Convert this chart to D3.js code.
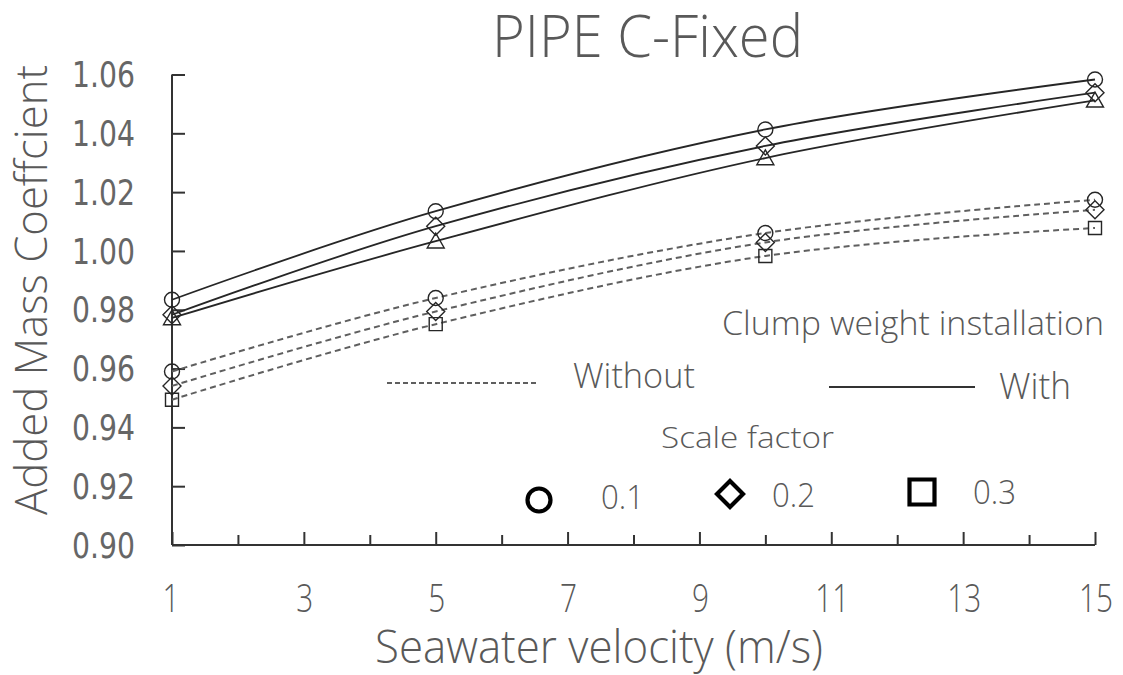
<!DOCTYPE html>
<html>
<head>
<meta charset="utf-8">
<script src="https://cdn.jsdelivr.net/npm/d3@7"></script>
<style>
  html, body { margin: 0; padding: 0; background: #fff; }
  svg { display: block; }
  .lt { font-family: "Open Sans", "Noto Sans", sans-serif; font-weight: 300; fill: #595959; }
  .num { font-family: "DejaVu Sans", sans-serif; fill: #666; }
</style>
</head>
<body>
<svg id="chart" width="1123" height="675"></svg>
<script>
// Seawater velocity sample points (m/s)
const velocities = [1, 5, 10, 15];

// Added mass coefficient, with clump weight installed
const withSF01 = [0.9834, 1.0135, 1.0413, 1.0583];
const withSF02 = [0.9783, 1.0084, 1.0357, 1.0538];
const withSF03 = [0.9772, 1.0033, 1.0316, 1.0512];

// Added mass coefficient, without clump weight
const withoutSF01 = [0.9590, 0.9840, 1.0061, 1.0174];
const withoutSF02 = [0.9541, 0.9794, 1.0029, 1.0140];
const withoutSF03 = [0.9494, 0.9751, 0.9983, 1.0078];

const yTicks = [0.90, 0.92, 0.94, 0.96, 0.98, 1.00, 1.02, 1.04, 1.06];
const xTickLabels = [1, 3, 5, 7, 9, 11, 13, 15];
const xTicksAll = d3.range(1, 16);

const svg = d3.select("#chart");

const x = d3.scaleLinear().domain([1, 15]).range([172, 1095]);
const y = d3.scaleLinear().domain([0.90, 1.06]).range([545, 74.5]);

// custom marker shapes (size = half-width in px)
const shapes = {
  circle: { draw(ctx, s) { ctx.moveTo(s, 0); ctx.arc(0, 0, s, 0, 2 * Math.PI); } },
  diamond: { draw(ctx, s) { ctx.moveTo(0, -s); ctx.lineTo(s, 0); ctx.lineTo(0, s); ctx.lineTo(-s, 0); ctx.closePath(); } },
  square: { draw(ctx, s) { ctx.rect(-s, -s, 2 * s, 2 * s); } },
  triangle: { draw(ctx, s) { const h = s * 1.75; ctx.moveTo(0, -h * 0.55); ctx.lineTo(s, h * 0.45); ctx.lineTo(-s, h * 0.45); ctx.closePath(); } }
};

const series = [
  { values: withoutSF01, dashed: true, shape: "circle", size: 7.5 },
  { values: withoutSF02, dashed: true, shape: "diamond", size: 9 },
  { values: withoutSF03, dashed: true, shape: "square", size: 6.5 },
  { values: withSF01, dashed: false, shape: "circle", size: 7.5 },
  { values: withSF02, dashed: false, shape: "diamond", size: 9 },
  { values: withSF03, dashed: false, shape: "triangle", size: 8.5 }
];

// axes
const axisColor = "#333";
const yAxis = svg.append("g").attr("transform", `translate(${x(1)},0)`)
  .call(d3.axisRight(y).tickValues(yTicks).tickSize(13).tickFormat(""));
yAxis.selectAll("path, line").attr("stroke", axisColor).attr("stroke-width", 2);
yAxis.select(".domain").attr("d", `M0,${y(1.06)}V${y(0.90)}`);

const xAxis = svg.append("g").attr("transform", `translate(0,${y(0.90)})`)
  .call(d3.axisTop(x).tickValues(xTicksAll).tickSize(13).tickFormat(""));
xAxis.selectAll("path, line").attr("stroke", axisColor).attr("stroke-width", 2);
xAxis.select(".domain").attr("d", `M${x(1)},0H${x(15)}`);
xAxis.selectAll(".tick line").attr("y2", d => (d % 2 === 0 ? -10 : -13));

// y tick labels
svg.append("g").selectAll("text").data(yTicks).join("text")
  .attr("class", "num")
  .attr("x", 135).attr("y", d => y(d)).attr("dy", "0.36em")
  .attr("text-anchor", "end")
  .attr("font-size", 35)
  .attr("textLength", 63).attr("lengthAdjust", "spacingAndGlyphs")
  .text(d => d.toFixed(2));

// x tick labels
svg.append("g").selectAll("text").data(xTickLabels).join("text")
  .attr("class", "lt")
  .attr("x", d => x(d) + (d === 1 ? -1 : 1)).attr("y", 612)
  .attr("text-anchor", "middle")
  .attr("font-size", 38)
  .attr("textLength", d => String(d).length * 17).attr("lengthAdjust", "spacingAndGlyphs")
  .text(d => d);

// titles
svg.append("text").attr("class", "lt")
  .attr("x", 647.5).attr("y", 57).attr("text-anchor", "middle")
  .attr("font-size", 59).attr("textLength", 311).attr("lengthAdjust", "spacingAndGlyphs")
  .text("PIPE C-Fixed");

svg.append("text").attr("class", "lt")
  .attr("x", 599).attr("y", 663).attr("text-anchor", "middle")
  .attr("font-size", 46).attr("textLength", 448).attr("lengthAdjust", "spacingAndGlyphs")
  .text("Seawater velocity (m/s)");

svg.append("text").attr("class", "lt")
  .attr("transform", "translate(47,290) rotate(-90)").attr("text-anchor", "middle")
  .attr("font-size", 45).attr("textLength", 450).attr("lengthAdjust", "spacingAndGlyphs")
  .text("Added Mass Coeffcient");

// curves
const line = d3.line()
  .x((d, i) => x(velocities[i]))
  .y(d => y(d))
  .curve(d3.curveCardinal.tension(0));

const plot = svg.append("g");
series.forEach(s => {
  plot.append("path")
    .attr("d", line(s.values))
    .attr("fill", "none")
    .attr("stroke", s.dashed ? "#5f5f5f" : "#262626")
    .attr("stroke-width", s.dashed ? 2 : 1.8)
    .attr("stroke-dasharray", s.dashed ? "6,4" : null);
});
series.forEach(s => {
  plot.append("g").selectAll("path").data(s.values).join("path")
    .attr("transform", (d, i) => `translate(${x(velocities[i])},${y(d)})`)
    .attr("d", d3.symbol().type(shapes[s.shape]).size(s.size))
    .attr("fill", "none")
    .attr("stroke", "#262626")
    .attr("stroke-width", 1.4);
});

// legend
const lg = svg.append("g");
lg.append("text").attr("class", "lt").attr("x", 722).attr("y", 335)
  .attr("font-size", 33).attr("textLength", 382).attr("lengthAdjust", "spacingAndGlyphs")
  .text("Clump weight installation");
lg.append("line").attr("x1", 387).attr("x2", 537).attr("y1", 383).attr("y2", 383)
  .attr("stroke", "#5f5f5f").attr("stroke-width", 2).attr("stroke-dasharray", "5,3");
lg.append("text").attr("class", "lt").attr("x", 573).attr("y", 388)
  .attr("font-size", 35).attr("textLength", 122).attr("lengthAdjust", "spacingAndGlyphs")
  .text("Without");
lg.append("line").attr("x1", 829).attr("x2", 975).attr("y1", 387).attr("y2", 387)
  .attr("stroke", "#333").attr("stroke-width", 2);
lg.append("text").attr("class", "lt").attr("x", 999).attr("y", 399)
  .attr("font-size", 36).attr("textLength", 72).attr("lengthAdjust", "spacingAndGlyphs")
  .text("With");
lg.append("text").attr("class", "lt").attr("x", 661).attr("y", 448)
  .attr("font-size", 29).attr("textLength", 173).attr("lengthAdjust", "spacingAndGlyphs")
  .text("Scale factor");

const scaleLegend = [
  { label: "0.1", shape: "circle", size: 11.5, mx: 539, my: 500, tx: 601, ty: 509 },
  { label: "0.2", shape: "diamond", size: 13, mx: 730, my: 494, tx: 772, ty: 507 },
  { label: "0.3", shape: "square", size: 12.5, mx: 922, my: 492, tx: 973, ty: 504 }
];
scaleLegend.forEach(d => {
  lg.append("path")
    .attr("transform", `translate(${d.mx},${d.my})`)
    .attr("d", d3.symbol().type(shapes[d.shape]).size(d.size))
    .attr("fill", "none").attr("stroke", "#000").attr("stroke-width", 4.2);
  lg.append("text").attr("class", "lt").attr("x", d.tx).attr("y", d.ty)
    .attr("font-size", 33).attr("textLength", 43).attr("lengthAdjust", "spacingAndGlyphs")
    .text(d.label);
});
</script>
</body>
</html>
